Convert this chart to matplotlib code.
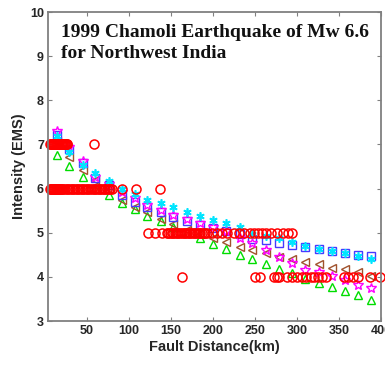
import matplotlib
matplotlib.use("Agg")
import matplotlib.pyplot as plt

# model distances (km)
dist = [14, 29, 45, 60, 76, 92, 107, 122, 138, 153, 169, 185, 200,
        216, 232, 247, 263, 279, 294, 310, 326, 341, 357, 372, 388]

# predicted intensities, one list per model
sq_blue = [7.22, 6.90, 6.57, 6.23, 6.08, 5.86, 5.70, 5.58, 5.47, 5.36, 5.26, 5.17, 5.10,
           5.04, 4.97, 4.86, 4.83, 4.76, 4.73, 4.68, 4.63, 4.59, 4.55, 4.50, 4.47]
star_mag = [7.30, 6.94, 6.63, 6.27, 6.10, 5.92, 5.78, 5.63, 5.52, 5.40, 5.30, 5.23, 5.12,
            5.04, 4.89, 4.77, 4.61, 4.44, 4.32, 4.16, 4.12, 4.03, 3.93, 3.82, 3.74]
ast_cyan = [7.20, 6.84, 6.53, 6.35, 6.17, 6.00, 5.87, 5.75, 5.67, 5.58, 5.48, 5.39, 5.29,
            5.21, 5.13, 4.98, 4.92, 4.87, 4.80, 4.70, 4.64, 4.59, 4.55, 4.48, 4.41]
tri_brown = [7.08, 6.72, 6.42, 6.20, 6.00, 5.74, 5.59, 5.48, 5.31, 5.20, 5.06, 4.97, 4.87,
             4.80, 4.67, 4.61, 4.55, 4.44, 4.41, 4.34, 4.29, 4.21, 4.17, 4.12, 4.03]
tri_green = [6.76, 6.51, 6.27, 6.02, 5.85, 5.67, 5.53, 5.38, 5.26, 5.12, 5.02, 4.87, 4.74,
             4.63, 4.49, 4.40, 4.30, 4.18, 4.09, 3.96, 3.87, 3.76, 3.67, 3.58, 3.48]

# observed intensities: distance lists for each EMS level
obs_d7 = [6, 7, 8, 9, 10, 11, 12, 13, 14, 15, 16, 17, 18, 19, 20, 21, 22, 23, 24, 25, 26, 27, 59]
obs_d6 = [6, 7, 8, 9, 10, 11, 12, 13, 14, 15, 16, 17, 18, 19, 20, 22, 24, 26, 28, 30, 32, 34,
          36, 38, 40, 42, 44, 46, 48, 50, 52, 54, 56, 58, 60, 62, 64, 66, 68, 70, 72, 74, 76,
          78, 80, 92, 108, 137]
obs_d5 = [123, 131, 139, 145, 147, 149, 151, 153, 155, 157, 159, 161, 163, 165, 167, 169, 171,
          173, 175, 177, 179, 181, 183, 185, 187, 189, 191, 193, 199, 205, 211, 217, 225, 231,
          237, 244, 249, 253, 258, 263, 269, 276, 283, 289, 294]
obs_d4 = [163, 250, 256, 273, 276, 279, 288, 294, 300, 306, 311, 316, 320, 325, 330, 335,
          356, 361, 367, 373, 387, 399]

fig = plt.figure(figsize=(3.85, 3.65), dpi=100)
ax = fig.add_axes([0.125, 0.1205, 0.865, 0.8466])

ms = 6
ax.plot(dist, tri_green, ls="none", marker="^", ms=ms, mfc="none", mec="#00dd00", mew=1, clip_on=False)
ax.plot(dist, tri_brown, ls="none", marker="<", ms=ms, mfc="none", mec="#a0522d", mew=1, clip_on=False)
ax.plot(dist, sq_blue, ls="none", marker="s", ms=ms, mfc="none", mec="#4838ff", mew=1, clip_on=False)
ax.plot(dist, star_mag, ls="none", marker="*", ms=ms + 1, mfc="none", mec="#ff00ff", mew=1, clip_on=False)
ax.plot(dist, ast_cyan, ls="none", marker=(6, 2, 0), ms=ms, mec="#00e5ff", mew=1.2, clip_on=False)

for lev, dd in [(7, obs_d7), (6, obs_d6), (5, obs_d5), (4, obs_d4)]:
    ax.plot(dd, [lev] * len(dd), ls="none", marker="o", ms=ms + 0.5, mfc="none", mec="#ff0000",
            mew=1.1, clip_on=False)

ax.set_xlim(4, 400)
ax.set_ylim(3, 10)
ax.set_xticks([50, 100, 150, 200, 250, 300, 350, 400])
ax.set_yticks([3, 4, 5, 6, 7, 8, 9, 10])

for s in ax.spines.values():
    s.set_color("#808080")
    s.set_linewidth(1.3)
ax.tick_params(direction="in", top=True, right=True, length=3, color="#808080", width=0.8,
               labelsize=9, labelcolor="#262626", pad=3)
for lab in ax.get_xticklabels() + ax.get_yticklabels():
    lab.set_fontweight("bold")
    lab.set_family("Liberation Sans")

ax.set_xlabel("Fault Distance(km)", fontsize=10.5, fontweight="bold", family="Liberation Sans",
              color="#262626", labelpad=2)
ax.set_ylabel("Intensity (EMS)", fontsize=10.5, fontweight="bold", family="Liberation Sans",
              color="#262626", labelpad=3)

ax.text(0.039, 0.962, "1999 Chamoli Earthquake of Mw 6.6\nfor Northwest India",
        transform=ax.transAxes, ha="left", va="top", fontsize=14, fontweight="bold",
        family="Liberation Serif", color="#111111", linespacing=1.3)

fig.savefig("out.png", dpi=100)
